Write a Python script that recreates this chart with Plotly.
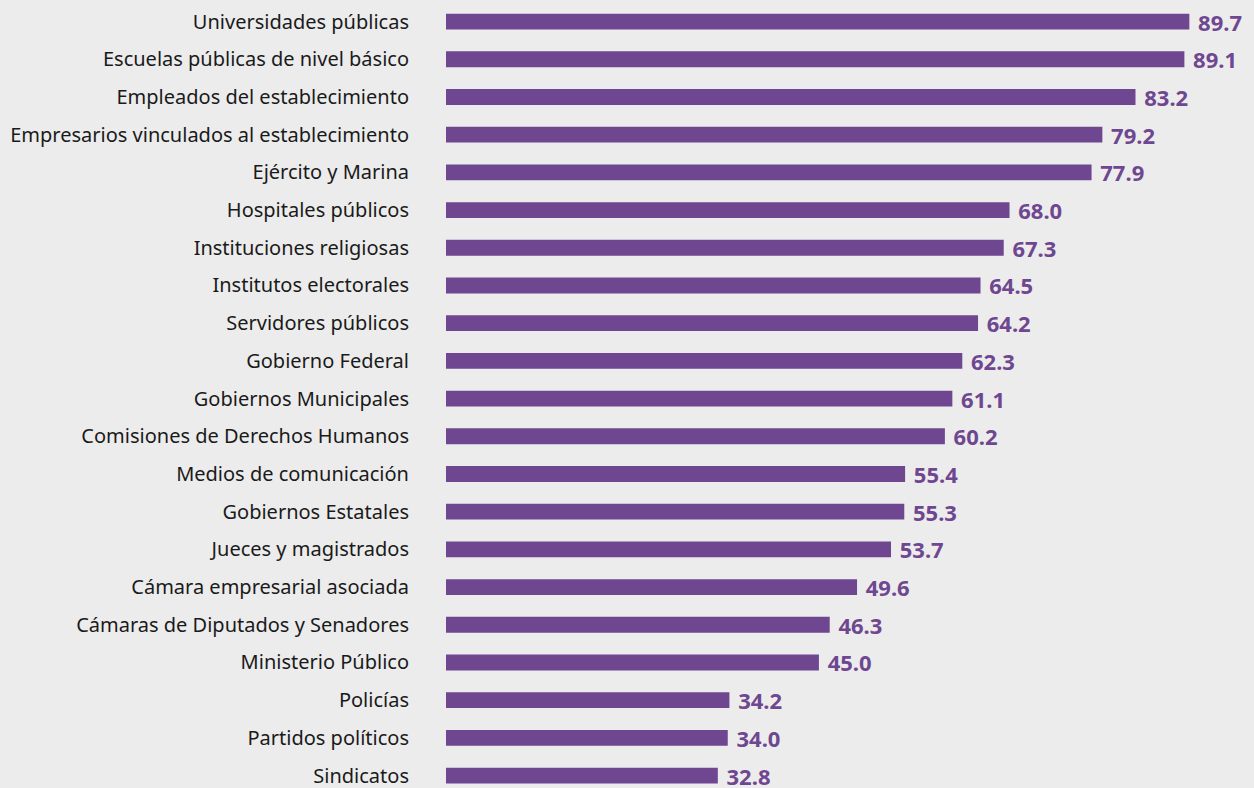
import plotly.graph_objects as go

categories = [
    "Universidades públicas",
    "Escuelas públicas de nivel básico",
    "Empleados del establecimiento",
    "Empresarios vinculados al establecimiento",
    "Ejército y Marina",
    "Hospitales públicos",
    "Instituciones religiosas",
    "Institutos electorales",
    "Servidores públicos",
    "Gobierno Federal",
    "Gobiernos Municipales",
    "Comisiones de Derechos Humanos",
    "Medios de comunicación",
    "Gobiernos Estatales",
    "Jueces y magistrados",
    "Cámara empresarial asociada",
    "Cámaras de Diputados y Senadores",
    "Ministerio Público",
    "Policías",
    "Partidos políticos",
    "Sindicatos",
]
values = [89.7, 89.1, 83.2, 79.2, 77.9, 68.0, 67.3, 64.5, 64.2, 62.3, 61.1,
          60.2, 55.4, 55.3, 53.7, 49.6, 46.3, 45.0, 34.2, 34.0, 32.8]

# bottom-to-top order for plotting
cats_plot = categories[::-1]
vals_plot = values[::-1]

PURPLE = "#6f4791"
BG = "#ececec"

fig = go.Figure(go.Bar(
    x=vals_plot,
    y=cats_plot,
    orientation="h",
    marker=dict(color=PURPLE, line=dict(width=0)),
    width=0.42,
    texttemplate="\u00a0%{x:.1f}",
    textposition="outside",
    constraintext="none",
    textfont=dict(family="Noto Sans", size=22, color=PURPLE, weight="bold"),
    cliponaxis=False,
    hoverinfo="skip",
))

fig.update_layout(
    width=1254,
    height=788,
    paper_bgcolor=BG,
    plot_bgcolor=BG,
    margin=dict(l=446, r=0, t=0, b=0),
    showlegend=False,
    font=dict(family="Noto Sans", size=20, color="#1a1a1a"),
    xaxis=dict(
        range=[0, 97.5],
        visible=False,
        showgrid=False,
        zeroline=False,
    ),
    yaxis=dict(
        type="category",
        categoryorder="array",
        categoryarray=cats_plot,
        range=[-0.33, 20.572],
        showgrid=False,
        zeroline=False,
        showline=False,
        ticks="",
        ticklabelstandoff=36,
        tickfont=dict(family="Noto Sans", size=20, color="#1a1a1a"),
    ),
)

fig.write_html("out.html", config={"displayModeBar": False})

# remove default page margin so the figure fills the window
with open("out.html", "r", encoding="utf-8") as f:
    html = f.read()
html = html.replace("<head>", "<head><style>html,body{margin:0;padding:0;background:#ececec;overflow:hidden}</style>", 1)
with open("out.html", "w", encoding="utf-8") as f:
    f.write(html)
